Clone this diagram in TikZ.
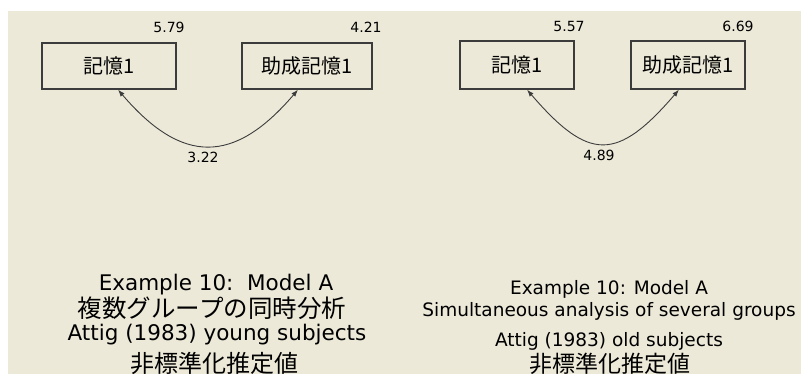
\documentclass[tikz,border=0pt]{standalone}
\usepackage{fontspec}
\setmainfont{DejaVu Sans}
\newfontfamily\jpfont{Noto Sans CJK JP}
\definecolor{PanelColor}{RGB}{236,233,216}
\definecolor{LineColor}{RGB}{60,60,60}
\usetikzlibrary{arrows.meta}

\begin{document}
\begin{tikzpicture}[x=1pt,y=-1pt,
    obs/.style={draw=LineColor, line width=1.3pt, fill=PanelColor, minimum height=46pt,
      inner sep=0pt, font=\jpfont\fontsize{20}{20}\selectfont},
    est/.style={font=\fontsize{14}{14}\selectfont, inner sep=0pt},
    cov/.style={{Latex[length=7pt,width=5pt]}-{Latex[length=7pt,width=5pt]}, line width=0.9pt, LineColor},
    caption/.style={inner sep=0pt, anchor=center}]
  \useasboundingbox (0,0) rectangle (801,374);
  \fill[PanelColor] (8,11) rectangle (801,374);

  % young subjects
  \begin{scope}
    \node[obs, minimum width=134pt] (memY) at (109,66) {記憶1};
    \node[obs, minimum width=130pt] (aidY) at (307,66) {助成記憶1};
    \node[est] (vmemY) at (169,27) {5.79};
    \node[est] (vaidY) at (366,27) {4.21};
    \draw[cov] ([xshift=9pt]memY.south) .. controls +(64,75) and +(-64,75) .. ([xshift=-9pt]aidY.south);
    \node[est] (cY) at (203,157) {3.22};
    \node[caption, font=\fontsize{21.5}{21.5}\selectfont] (t1Y) at (216,285) {Example 10:\ \ Model A};
    \node[caption, font=\jpfont\fontsize{24.5}{24.5}\selectfont] (t2Y) at (212,308) {複数グループの同時分析};
    \node[caption, font=\fontsize{21.5}{21.5}\selectfont] (t3Y) at (217,335) {Attig (1983) young subjects};
    \node[caption, font=\jpfont\fontsize{24}{24}\selectfont] (t4Y) at (214,363) {非標準化推定値};
  \end{scope}

  % old subjects
  \begin{scope}
    \node[obs, minimum width=114pt, minimum height=48pt] (memO) at (517,65) {記憶1};
    \node[obs, minimum width=114pt, minimum height=48pt] (aidO) at (688,65) {助成記憶1};
    \node[est] (vmemO) at (569,26) {5.57};
    \node[est] (vaidO) at (738,26) {6.69};
    \draw[cov] ([xshift=10pt]memO.south) .. controls +(62,72) and +(-62,72) .. ([xshift=-9pt]aidO.south);
    \node[est] (cO) at (599,155) {4.89};
    \node[caption, font=\fontsize{18.5}{18.5}\selectfont] (t1O) at (609,289) {Example 10: Model A};
    \node[caption, font=\fontsize{18.5}{18.5}\selectfont] (t2O) at (609,311) {Simultaneous analysis of several groups};
    \node[caption, font=\fontsize{18.5}{18.5}\selectfont] (t3O) at (609,341) {Attig (1983) old subjects};
    \node[caption, font=\jpfont\fontsize{23}{23}\selectfont] (t4O) at (610,364) {非標準化推定値};
  \end{scope}
\end{tikzpicture}
\end{document}
